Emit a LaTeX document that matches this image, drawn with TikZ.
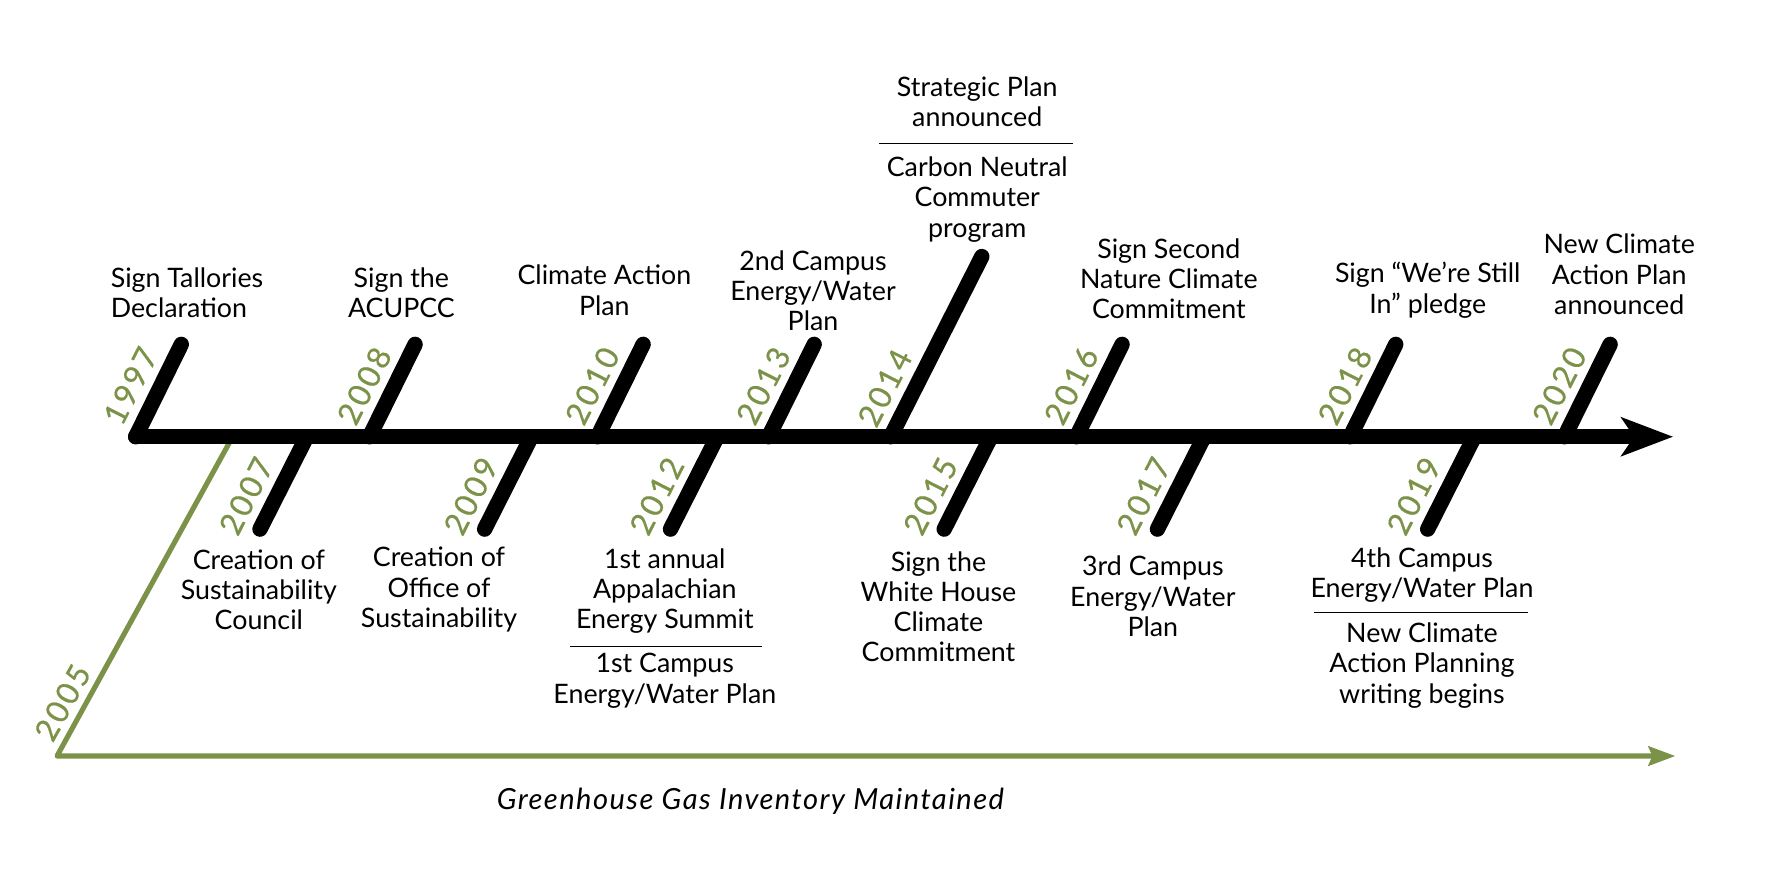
\documentclass[tikz,border=0pt]{standalone}
\usepackage{fontspec}
\setmainfont{Lato}[Numbers=Lining]
\newfontfamily\yearfont{Lato}[Numbers={Lining,Monospaced}, LetterSpace=9, FakeBold=0.6]
\newfontfamily\capfont{Lato}[LetterSpace=5]
\definecolor{ggreen}{RGB}{124,146,72}
\tikzset{
  stick/.style={line width=13.5pt, line cap=round},
  axisline/.style={line width=13.5pt, line cap=round},
  gline/.style={ggreen, line width=4.5pt},
  rule/.style={line width=1.3pt},
  yr/.style={font=\yearfont\fontsize{27.5}{27.5}\selectfont, text=ggreen, rotate=63, anchor=base, inner sep=0pt},
  lbl/.style={font=\fontsize{23.5}{26.5}\selectfont, align=center, inner sep=0pt},
}
\newcommand\upstick[2]{%
  \coordinate (b#2) at (#1,383);
  \draw[stick] (b#2) -- ++(40,-81) coordinate (t#2);
  \path (b#2) ++(16.8,-34) ++(-12.6,-6.2) node[yr] (y#2) {#2};
}
\newcommand\downstick[2]{%
  \coordinate (b#2) at (#1,383);
  \draw[stick] (b#2) -- ++(-41,81) coordinate (t#2);
  \path (b#2) ++(-31.8,62.8) ++(-12.5,-6.3) node[yr] (y#2) {#2};
}
\begin{document}
\begin{tikzpicture}[x=1pt,y=-1pt]
\useasboundingbox (0,0) rectangle (1568,763);
% green inventory line
\coordinate (g0) at (50,663);
\coordinate (gtop) at (204,383);
\coordinate (gend) at (1450,663);
\coordinate (gtip) at (1469,663);
\draw[gline, line join=round] (gtop) -- (g0) -- (gend);
\fill[ggreen] (gtip) -- (1445,654) -- (1449,663) -- (1445,672) -- cycle;
\path (g0) ++(20.9,-38) ++(-7.4,-4.1) node[yr, rotate=-2] (y2005) {2005};
% main axis
\coordinate (a0) at (119,383);
\coordinate (a1) at (1435,383);
\coordinate (atip) at (1467,383);
\draw[axisline] (a0) -- (a1);
\fill (atip) -- (1421,365.5) -- (1433,383) -- (1421,400.5) -- cycle;
% sticks above
\upstick{119}{1997}
\upstick{324}{2008}
\upstick{524}{2010}
\upstick{674}{2013}
\upstick{944}{2016}
\upstick{1184}{2018}
\upstick{1372}{2020}
\coordinate (b2014) at (781,383);
\draw[stick] (b2014) -- ++(80,-158) coordinate (t2014);
\path (b2014) ++(16.2,-32) ++(-12.5,-6.4) node[yr] (y2014) {2014};
% sticks below
\downstick{269}{2007}
\downstick{466}{2009}
\downstick{629}{2012}
\downstick{869}{2015}
\downstick{1056}{2017}
\downstick{1293}{2019}
% labels above
\node[lbl, align=left, anchor=west] (l1997) at (97,256.5) {Sign Tallories\\Declaration};
\node[lbl] (l2008) at (352,256.5) {Sign the\\ACUPCC};
\node[lbl] (l2010) at (530,254.5) {Climate Action\\Plan};
\node[lbl] (l2013) at (713,255) {2nd Campus\\Energy/Water\\Plan};
\node[lbl] (l2014a) at (857,89.5) {Strategic Plan\\announced};
\node[lbl] (l2014b) at (857,175) {Carbon Neutral\\Commuter\\program};
\node[lbl] (l2016) at (1025,244.5) {Sign Second\\Nature Climate\\Commitment};
\node[lbl] (l2018) at (1252,254.5) {Sign “We’re Still\\In” pledge};
\node[lbl] (l2020) at (1420,240.5) {New Climate\\Action Plan\\announced};
% labels below
\node[lbl] (l2007) at (227,517) {Creation of\\Sustainability\\Council};
\node[lbl] (l2009) at (385,517) {Creation of\\Office of\\Sustainability};
\node[lbl] (l2012a) at (583,518.5) {1st annual\\Appalachian\\Energy Summit};
\node[lbl] (l2012b) at (583,597) {1st Campus\\Energy/Water Plan};
\node[lbl] (l2015) at (823,532) {Sign the\\White House\\Climate\\Commitment};
\node[lbl] (l2017) at (1011,523) {3rd Campus\\Energy/Water\\Plan};
\node[lbl] (l2019a) at (1247,504) {4th Campus\\Energy/Water Plan};
\node[lbl] (l2019b) at (1247,583.5) {New Climate\\Action Planning\\writing begins};
% separator rules
\coordinate (r1a) at (771,126); \coordinate (r1b) at (941,126);
\coordinate (r2a) at (500,567); \coordinate (r2b) at (668,567);
\coordinate (r3a) at (1152,537); \coordinate (r3b) at (1340,537);
\draw[rule] (r1a) -- (r1b);
\draw[rule] (r2a) -- (r2b);
\draw[rule] (r3a) -- (r3b);
% caption
\node[lbl, font=\capfont\fontsize{25.5}{28}\selectfont\itshape] (cap) at (658,703) {Greenhouse Gas Inventory Maintained};
\end{tikzpicture}
\end{document}
